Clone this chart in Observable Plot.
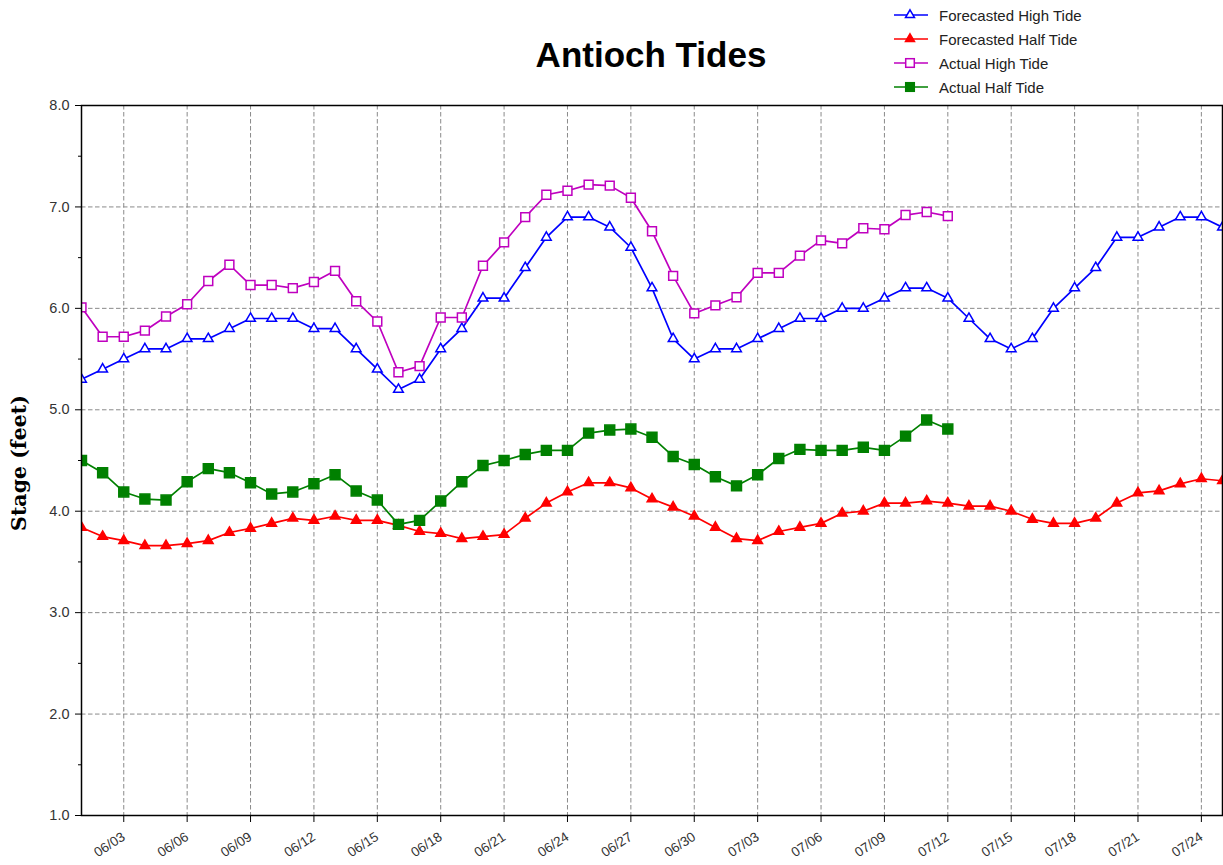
<!DOCTYPE html>
<html><head><meta charset="utf-8">
<script src="https://cdn.jsdelivr.net/npm/d3@7"></script>
<script src="https://cdn.jsdelivr.net/npm/@observablehq/plot@0.6"></script>
<style>
body{margin:0;background:#fff;}
#wrap{position:relative;width:1223px;height:865px;overflow:hidden;font-family:"Liberation Sans",Arial,sans-serif;background:#fff;}
#chart{position:absolute;left:0;top:0;}
#title{position:absolute;left:451px;width:400px;top:35px;text-align:center;font-size:35px;font-weight:bold;color:#000;}
#ylabel{position:absolute;left:19px;top:463px;transform:translate(-50%,-50%) rotate(-90deg);font-family:"DejaVu Serif",serif;font-weight:bold;font-size:20.5px;white-space:nowrap;color:#000;}
#legend{position:absolute;left:893px;top:3px;}
.row{display:flex;align-items:center;height:24px;}
.row span{margin-left:10px;font-size:15px;color:#222;white-space:nowrap;}
</style>
</head><body>
<div id="wrap">
<div id="chart"></div>
<div id="title">Antioch Tides</div>
<div id="ylabel">Stage (feet)</div>
<div id="legend"></div>
</div>
<script>
const dates = ["06/01","06/02","06/03","06/04","06/05","06/06","06/07","06/08","06/09","06/10",
"06/11","06/12","06/13","06/14","06/15","06/16","06/17","06/18","06/19","06/20",
"06/21","06/22","06/23","06/24","06/25","06/26","06/27","06/28","06/29","06/30",
"07/01","07/02","07/03","07/04","07/05","07/06","07/07","07/08","07/09","07/10",
"07/11","07/12","07/13","07/14","07/15","07/16","07/17","07/18","07/19","07/20",
"07/21","07/22","07/23","07/24","07/25"];

const forecastHigh = [5.3,5.4,5.5,5.6,5.6,5.7,5.7,5.8,5.9,5.9,
5.9,5.8,5.8,5.6,5.4,5.2,5.3,5.6,5.8,6.1,
6.1,6.4,6.7,6.9,6.9,6.8,6.6,6.2,5.7,5.5,
5.6,5.6,5.7,5.8,5.9,5.9,6.0,6.0,6.1,6.2,
6.2,6.1,5.9,5.7,5.6,5.7,6.0,6.2,6.4,6.7,
6.7,6.8,6.9,6.9,6.8];

const forecastHalf = [3.84,3.75,3.71,3.66,3.66,3.68,3.71,3.79,3.83,3.88,
3.93,3.91,3.95,3.91,3.91,3.86,3.80,3.78,3.73,3.75,
3.77,3.93,4.08,4.19,4.28,4.28,4.23,4.12,4.04,3.95,
3.84,3.73,3.71,3.80,3.84,3.88,3.98,4.00,4.08,4.08,
4.10,4.08,4.05,4.05,4.00,3.92,3.88,3.88,3.93,4.08,
4.18,4.20,4.27,4.32,4.30];

const actualHigh = [6.01,5.72,5.72,5.78,5.92,6.04,6.27,6.43,6.23,6.23,
6.20,6.26,6.37,6.07,5.87,5.37,5.43,5.91,5.91,6.42,
6.65,6.90,7.12,7.16,7.22,7.21,7.09,6.76,6.32,5.95,
6.03,6.11,6.35,6.35,6.52,6.67,6.64,6.79,6.78,6.92,
6.95,6.91];

const actualHalf = [4.50,4.38,4.19,4.12,4.11,4.29,4.42,4.38,4.28,4.17,
4.19,4.27,4.36,4.20,4.11,3.87,3.91,4.10,4.29,4.45,
4.50,4.56,4.60,4.60,4.77,4.80,4.81,4.73,4.54,4.46,
4.34,4.25,4.36,4.52,4.61,4.60,4.60,4.63,4.60,4.74,
4.90,4.81];

const tickLabels = ["06/03","06/06","06/09","06/12","06/15","06/18","06/21","06/24","06/27","06/30",
"07/03","07/06","07/09","07/12","07/15","07/18","07/21","07/24"];
const yTicks = [1,2,3,4,5,6,7,8];
const yMinorTicks = [1.5,2.5,3.5,4.5,5.5,6.5,7.5];
const seriesNames = ["Forecasted High Tide","Forecasted Half Tide","Actual High Tide","Actual Half Tide"];

const parseD = s => d3.utcParse("%Y/%m/%d")("2017/" + s);
const table = vals => vals.map((v, i) => ({date: parseD(dates[i]), value: v}));
const tickDates = tickLabels.map(parseD);

const styles = [
  {data: table(forecastHigh), color: "#0000ff", symbol: "triangle", fill: "white", r: 3.6},
  {data: table(forecastHalf), color: "#ff0000", symbol: "triangle", fill: "#ff0000", r: 3.6},
  {data: table(actualHigh), color: "#bf00bf", symbol: "square", fill: "white", r: 5.0},
  {data: table(actualHalf), color: "#008000", symbol: "square", fill: "#008000", r: 5.6}
];

const gridStyle = {stroke: "#8a8a8a", strokeOpacity: 1, strokeWidth: 1, strokeDasharray: "4.5,2.5"};

const marks = [
  Plot.gridX(tickDates, gridStyle),
  Plot.gridY(yTicks.slice(1, -1), gridStyle),
  Plot.axisY(yTicks, {tickFormat: d => d.toFixed(1), tickSize: 6, tickPadding: 6, fontSize: 14.5, label: null, stroke: "#000", fill: "#333"}),
  Plot.axisY(yMinorTicks, {tickFormat: () => "", tickSize: 3, label: null, stroke: "#000"}),
  Plot.axisX(tickDates, {tickFormat: d3.utcFormat("%m/%d"), tickRotate: -33, tickSize: 7, tickPadding: 13, fontSize: 13.5, label: null, stroke: "#000", fill: "#333"})
];
for (const s of styles) {
  marks.push(Plot.line(s.data, {x: "date", y: "value", stroke: s.color, strokeWidth: 1.7, clip: true}));
  marks.push(Plot.dot(s.data, {x: "date", y: "value", symbol: s.symbol, r: s.r, fill: s.fill, stroke: s.color, strokeWidth: 1.5, clip: true}));
}
marks.push(Plot.frame({stroke: "#000", strokeWidth: 1.5}));

const chart = Plot.plot({
  width: 1223, height: 865,
  marginLeft: 81, marginRight: 1, marginTop: 105, marginBottom: 50,
  x: {type: "utc", domain: [parseD(dates[0]), parseD(dates[dates.length - 1])]},
  y: {domain: [1, 8]},
  style: {fontFamily: "Liberation Sans, Arial, sans-serif", color: "#333", background: "white", overflow: "visible"},
  marks
});
document.getElementById("chart").appendChild(chart);

// legend
const legend = document.getElementById("legend");
styles.forEach((s, i) => {
  const row = document.createElement("div");
  row.className = "row";
  const sym = s.symbol === "triangle"
    ? `<path d="M17,${12 - 5.2} L${17 + 4.5},${12 + 2.6} L${17 - 4.5},${12 + 2.6} Z" fill="${s.fill}" stroke="${s.color}" stroke-width="1.5"/>`
    : `<rect x="${17 - 4.3}" y="${12 - 4.3}" width="8.6" height="8.6" fill="${s.fill}" stroke="${s.color}" stroke-width="1.5"/>`;
  row.innerHTML = `<svg width="36" height="24"><line x1="1" x2="35" y1="12" y2="12" stroke="${s.color}" stroke-width="1.7"/>${sym}</svg><span>${seriesNames[i]}</span>`;
  legend.appendChild(row);
});
</script>
</body></html>
